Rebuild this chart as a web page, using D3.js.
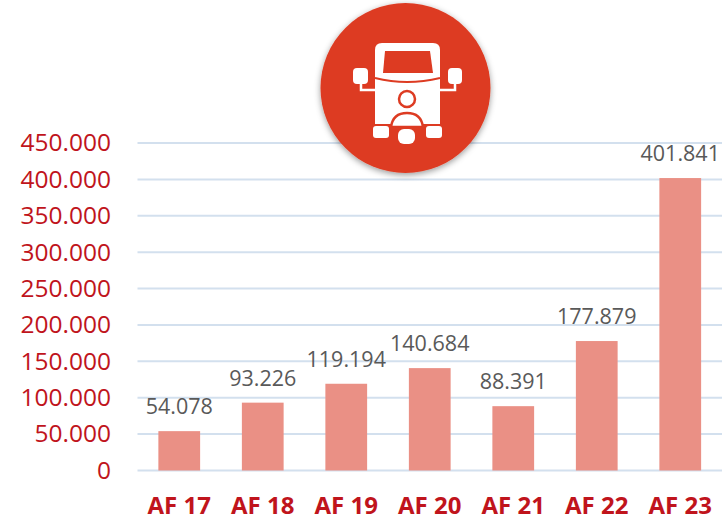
<!DOCTYPE html>
<html><head><meta charset="utf-8">
<script src="https://cdn.jsdelivr.net/npm/d3@7"></script>
<style>html,body{margin:0;padding:0;background:#fff}svg{display:block}</style>
</head><body><svg id="c" width="728" height="521"></svg>
<script>
const categories=["AF 17","AF 18","AF 19","AF 20","AF 21","AF 22","AF 23"];
const values=[54078,93226,119194,140684,88391,177879,401841];
const valueLabels=["54.078","93.226","119.194","140.684","88.391","177.879","401.841"];
const yTicks=[0,50000,100000,150000,200000,250000,300000,350000,400000,450000];
const fmt=v=>d3.format(",")(v).replace(/,/g,".");
const font='"Open Sans",sans-serif';
const svg=d3.select("#c");
const defs=svg.append("defs");
const blur=defs.append("filter").attr("id","soft").attr("x","-5%").attr("y","-5%").attr("width","110%").attr("height","110%");
blur.append("feGaussianBlur").attr("stdDeviation",0.45);
const sh=defs.append("filter").attr("id","sh").attr("x","-20%").attr("y","-20%").attr("width","140%").attr("height","140%");
sh.append("feDropShadow").attr("dx",0).attr("dy",2).attr("stdDeviation",3).attr("flood-color","#000").attr("flood-opacity",0.4);

const x=d3.scaleBand().domain(categories).range([137.5,722]).paddingInner(0.5).paddingOuter(0.25);
const y=d3.scaleLinear().domain([0,450000]).range([470.5,143]);

const grid=svg.append("g");
grid.selectAll("line").data(yTicks).join("line")
 .attr("x1",137.5).attr("x2",722).attr("y1",d=>y(d)).attr("y2",d=>y(d))
 .attr("stroke","#d3e0ee").attr("stroke-width",2);

svg.append("g").selectAll("rect").data(values).join("rect")
 .attr("x",(d,i)=>x(categories[i])).attr("width",x.bandwidth())
 .attr("y",d=>y(d)).attr("height",d=>y(0)-y(d))
 .attr("fill","#ea9085");

const yAxis=d3.axisLeft(y).tickValues(yTicks).tickFormat(fmt).tickSize(0).tickPadding(0);
const ga=svg.append("g").attr("transform","translate(111,0)").call(yAxis);
ga.select(".domain").remove();
ga.selectAll("text").attr("font-family",font).attr("font-size",24.5).attr("fill","#c0141c");

const xAxis=d3.axisBottom(x).tickSize(0).tickPadding(0);
const gx=svg.append("g").attr("transform","translate(0,497)").call(xAxis);
gx.select(".domain").remove();
gx.selectAll("text").attr("font-family",font).attr("font-size",24).attr("font-weight",700).attr("fill","#c0141c");

svg.append("g").selectAll("text").data(values).join("text")
 .attr("x",(d,i)=>x(categories[i])+x.bandwidth()/2)
 .attr("y",d=>y(d)-17).attr("text-anchor","middle")
 .attr("font-family",font).attr("font-size",21.5).attr("fill","#595959")
 .text((d,i)=>valueLabels[i]);

// badge icon
const red="#dd3b22";
svg.append("circle").attr("cx",405.5).attr("cy",88).attr("r",85).attr("fill",red).attr("filter","url(#sh)");
const ic=svg.append("g").attr("filter","url(#soft)");
const w=ic.append("g").attr("fill","#fff");
w.append("path").attr("d","M382 43H433Q440 43 440 50V124H375V50Q375 43 382 43Z");
ic.append("path").attr("d","M385 51H430L433 73H383Z").attr("fill",red);
ic.append("path").attr("d","M375 78Q407 86 440 78").attr("fill","none").attr("stroke",red).attr("stroke-width",2);
w.append("rect").attr("x",353).attr("y",68).attr("width",15).attr("height",16).attr("rx",4);
w.append("rect").attr("x",448).attr("y",68).attr("width",14).attr("height",16).attr("rx",4);
ic.append("path").attr("d","M361 84V90H375M455 84V90H440").attr("fill","none").attr("stroke","#fff").attr("stroke-width",2.5);
ic.append("circle").attr("cx",407).attr("cy",99).attr("r",8).attr("fill","#fff").attr("stroke",red).attr("stroke-width",2.5);
ic.append("path").attr("d","M391 127Q393 113 407 113Q421 113 423 127Z").attr("fill","#fff").attr("stroke",red).attr("stroke-width",2.5);
w.append("rect").attr("x",373).attr("y",126).attr("width",16).attr("height",12).attr("rx",3);
w.append("rect").attr("x",426).attr("y",126).attr("width",16).attr("height",12).attr("rx",3);
w.append("rect").attr("x",398).attr("y",129).attr("width",17).attr("height",15).attr("rx",6);
</script></body></html>
